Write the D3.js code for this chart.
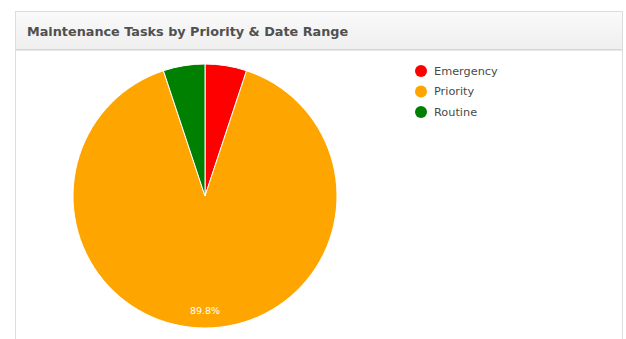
<!DOCTYPE html>
<html>
<head>
<meta charset="utf-8">
<script src="https://cdn.jsdelivr.net/npm/d3@7"></script>
<style>
  html, body { margin: 0; padding: 0; background: #fff; }
  #chart { width: 626px; height: 339px; }
</style>
</head>
<body>
<div id="chart"></div>
<script>
// data
var categories = ["Emergency", "Priority", "Routine"];
var shares = [5.1, 89.8, 5.1];
var sliceColors = ["#ff0000", "#ffa500", "#008000"];
var chartTitle = "Maintenance Tasks by Priority & Date Range";

var width = 626, height = 339;

var svg = d3.select("#chart").append("svg")
    .attr("width", width)
    .attr("height", height);

var defs = svg.append("defs");
var grad = defs.append("linearGradient")
    .attr("id", "hdr").attr("x1", 0).attr("y1", 0).attr("x2", 0).attr("y2", 1);
grad.append("stop").attr("offset", "0%").attr("stop-color", "#fafafa");
grad.append("stop").attr("offset", "100%").attr("stop-color", "#efefef");

// panel
svg.append("rect")
    .attr("x", 15.5).attr("y", 11.5)
    .attr("width", 607).attr("height", 340)
    .attr("fill", "#fff")
    .attr("stroke", "#dcdcdc");

svg.append("rect")
    .attr("x", 15.5).attr("y", 11.5)
    .attr("width", 607).attr("height", 38)
    .attr("fill", "url(#hdr)")
    .attr("stroke", "#dcdcdc");

svg.append("line")
    .attr("x1", 16).attr("x2", 622)
    .attr("y1", 50).attr("y2", 50)
    .attr("stroke", "#d0d0d0");

svg.append("text")
    .attr("x", 27).attr("y", 36)
    .attr("font-family", "DejaVu Sans, Verdana, sans-serif")
    .attr("font-size", 12.8)
    .attr("font-weight", "bold")
    .attr("fill", "#505050")
    .text(chartTitle);

// pie
var cx = 205, cy = 196, radius = 132;

var pie = d3.pie().sort(null).value(function(d) { return d; });
var arc = d3.arc().innerRadius(0).outerRadius(radius);
var labelArc = d3.arc().innerRadius(radius - 17).outerRadius(radius - 17);

var g = svg.append("g").attr("transform", "translate(" + cx + "," + cy + ")");
var arcs = pie(shares);

g.selectAll("path")
    .data(arcs)
    .enter().append("path")
    .attr("d", arc)
    .attr("fill", function(d, i) { return sliceColors[i]; })
    .attr("stroke", "#fff")
    .attr("stroke-width", 1);

g.selectAll("text")
    .data(arcs.filter(function(d) { return d.value > 20; }))
    .enter().append("text")
    .attr("transform", function(d) { return "translate(" + labelArc.centroid(d) + ")"; })
    .attr("text-anchor", "middle")
    .attr("dy", "0.35em")
    .attr("font-family", "DejaVu Sans, Verdana, sans-serif")
    .attr("font-size", 9.5)
    .attr("fill", "#fff")
    .text(function(d) { return d.value.toFixed(1) + "%"; });

// legend
var legend = svg.append("g")
    .selectAll("g")
    .data(categories)
    .enter().append("g")
    .attr("transform", function(d, i) { return "translate(421," + (71 + i * 20.5) + ")"; });

legend.append("circle")
    .attr("r", 6)
    .attr("fill", function(d, i) { return sliceColors[i]; });

legend.append("text")
    .attr("x", 13)
    .attr("dy", "0.35em")
    .attr("font-family", "DejaVu Sans, Verdana, sans-serif")
    .attr("font-size", 11.3)
    .attr("fill", "#4a4a4a")
    .text(function(d) { return d; });
</script>
</body>
</html>
